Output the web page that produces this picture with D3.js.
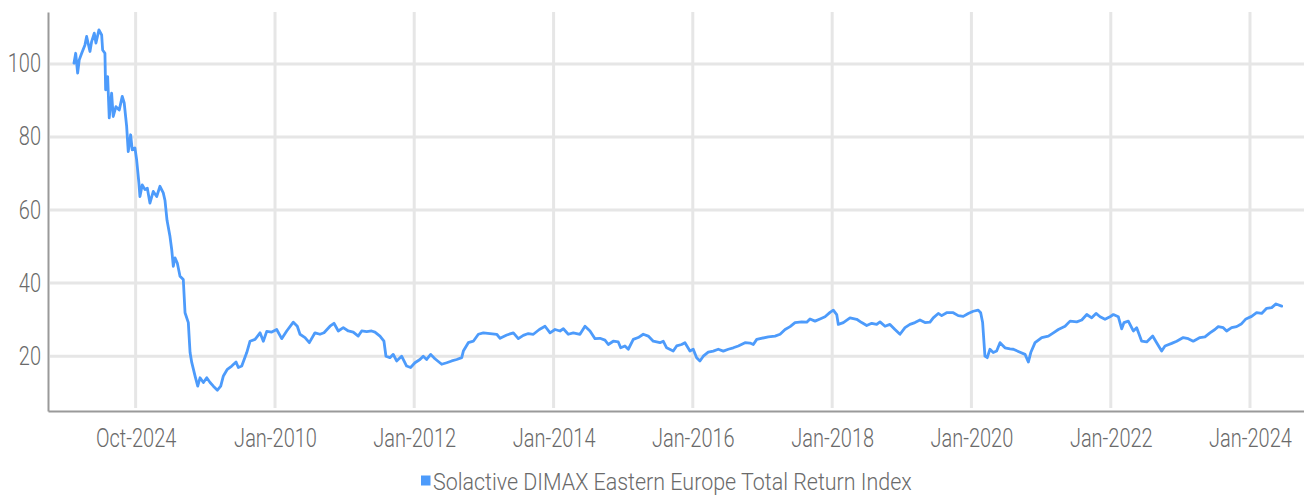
<!DOCTYPE html>
<html>
<head>
<meta charset="utf-8">
<script src="https://cdnjs.cloudflare.com/ajax/libs/d3/7.8.5/d3.min.js"></script>
<style>
  body { margin: 0; background: #fff; }
  svg { display: block; }
  .lbl { font-family: Roboto, "Noto Sans", sans-serif; font-weight: 300; fill: #6a6a6a; }
</style>
</head>
<body>
<svg id="chart" width="1304" height="496"></svg>
<script>
// index level, dates as decimal years
var years = [
  2007.114,2007.139,2007.167,2007.190,2007.225,2007.272,2007.296,2007.344,2007.368,2007.406,
  2007.430,2007.473,2007.512,2007.526,2007.559,2007.569,2007.598,2007.621,2007.655,2007.678,
  2007.717,2007.765,2007.808,2007.836,2007.871,2007.894,2007.928,2007.951,2007.990,2008.014,
  2008.047,2008.062,2008.095,2008.134,2008.167,2008.205,2008.253,2008.302,2008.349,2008.396,
  2008.421,2008.450,2008.492,2008.517,2008.540,2008.564,2008.597,2008.636,2008.683,2008.708,
  2008.755,2008.780,2008.804,2008.851,2008.890,2008.923,2008.971,2009.019,2009.067,2009.114,
  2009.172,2009.220,2009.258,2009.315,2009.378,2009.440,2009.473,2009.522,2009.594,2009.641,
  2009.713,2009.785,2009.832,2009.881,2009.953,2010.024,2010.096,2010.168,2010.263,2010.320,
  2010.359,2010.431,2010.493,2010.574,2010.646,2010.704,2010.790,2010.847,2010.909,2010.981,
  2011.053,2011.124,2011.196,2011.245,2011.317,2011.388,2011.436,2011.508,2011.565,2011.594,
  2011.651,2011.699,2011.747,2011.819,2011.891,2011.948,2012.010,2012.082,2012.129,2012.178,
  2012.236,2012.297,2012.394,2012.465,2012.537,2012.609,2012.681,2012.704,2012.775,2012.847,
  2012.919,2012.991,2013.087,2013.183,2013.231,2013.327,2013.422,2013.493,2013.565,2013.637,
  2013.709,2013.795,2013.877,2013.949,2014.020,2014.092,2014.140,2014.211,2014.283,2014.379,
  2014.451,2014.523,2014.595,2014.666,2014.738,2014.786,2014.857,2014.929,2014.964,2015.025,
  2015.073,2015.145,2015.216,2015.288,2015.360,2015.432,2015.528,2015.575,2015.624,2015.719,
  2015.768,2015.839,2015.887,2015.959,2016.006,2016.055,2016.102,2016.150,2016.221,2016.293,
  2016.365,2016.437,2016.509,2016.580,2016.652,2016.748,2016.820,2016.867,2016.916,2017.083,
  2017.179,2017.251,2017.323,2017.395,2017.466,2017.562,2017.634,2017.681,2017.753,2017.825,
  2017.897,2017.969,2018.016,2018.065,2018.088,2018.160,2018.256,2018.352,2018.424,2018.496,
  2018.568,2018.639,2018.687,2018.759,2018.830,2018.902,2018.974,2019.046,2019.117,2019.189,
  2019.261,2019.333,2019.405,2019.452,2019.524,2019.573,2019.644,2019.739,2019.811,2019.883,
  2019.955,2020.026,2020.098,2020.133,2020.161,2020.194,2020.227,2020.266,2020.313,2020.362,
  2020.410,2020.481,2020.553,2020.601,2020.697,2020.769,2020.816,2020.851,2020.912,2021.008,
  2021.103,2021.175,2021.247,2021.343,2021.415,2021.511,2021.583,2021.655,2021.726,2021.788,
  2021.846,2021.917,2021.989,2022.037,2022.108,2022.157,2022.190,2022.252,2022.324,2022.372,
  2022.444,2022.516,2022.602,2022.659,2022.731,2022.779,2022.875,2022.947,2023.041,2023.113,
  2023.185,2023.281,2023.353,2023.425,2023.496,2023.544,2023.616,2023.664,2023.736,2023.808,
  2023.880,2023.942,2024.023,2024.095,2024.167,2024.239,2024.311,2024.373,2024.454
];
var values = [
  100.2,102.9,97.5,101.1,102.9,105.2,107.5,103.4,106.1,108.4,
  105.7,109.3,107.9,103.8,102.9,92.9,96.5,85.2,92.0,85.6,
  88.3,87.4,91.1,89.3,82.9,76.0,80.6,76.5,77.0,73.8,
  67.4,63.7,66.9,65.6,66.0,61.9,65.1,63.7,66.5,64.7,
  62.6,57.2,52.8,49.2,44.6,46.9,45.5,41.9,41.0,31.9,
  29.2,21.0,18.3,14.6,11.8,14.1,12.8,14.1,12.8,11.8,
  10.7,11.8,14.6,16.4,17.3,18.4,16.9,17.3,21.0,24.1,
  24.6,26.4,24.1,26.8,26.6,27.3,24.8,26.9,29.3,28.2,
  26.0,25.1,23.7,26.4,26.0,26.4,28.2,29.0,26.9,27.8,
  26.9,26.6,25.5,26.9,26.7,26.9,26.6,25.5,24.1,20.0,
  19.6,20.5,18.7,20.0,17.3,16.9,18.2,19.1,20.0,19.1,
  20.5,19.3,17.8,18.2,18.7,19.1,19.6,21.4,23.7,24.1,
  26.0,26.4,26.2,26.0,24.9,25.8,26.4,24.8,25.7,26.2,
  26.0,27.3,28.2,26.4,27.3,26.9,27.5,26.0,26.4,26.0,
  28.2,26.9,24.8,24.9,24.4,23.2,24.1,23.9,22.3,22.8,
  21.9,24.6,25.1,26.0,25.5,24.1,23.7,24.1,22.3,21.4,
  22.8,23.2,23.7,21.4,21.9,19.6,18.7,20.0,21.1,21.4,
  21.9,21.4,21.9,22.3,22.8,23.7,23.6,23.2,24.6,25.3,
  25.5,26.0,27.3,28.1,29.2,29.4,29.3,30.2,29.6,30.2,
  30.8,32.0,32.6,31.4,28.7,29.2,30.5,30.1,29.2,28.4,
  29.0,28.7,29.4,28.2,28.7,27.3,26.0,27.8,28.7,29.2,
  29.9,29.2,29.3,30.5,31.7,31.1,31.9,31.9,31.1,30.9,
  31.7,32.3,32.6,31.9,29.2,20.0,19.6,21.9,21.0,21.4,
  23.7,22.3,22.0,21.9,21.1,20.5,18.4,21.0,23.7,25.1,
  25.5,26.4,27.3,28.2,29.6,29.4,29.9,31.4,30.5,31.7,
  30.8,30.1,30.8,31.4,30.8,27.5,29.2,29.6,26.9,27.8,
  24.1,23.9,25.5,23.7,21.4,22.8,23.5,24.1,25.1,24.8,
  24.1,25.1,25.3,26.4,27.3,28.1,27.8,26.9,27.8,28.1,
  28.9,30.2,30.9,31.9,31.7,33.1,33.3,34.3,33.7
];
var tickYears = [2008, 2010, 2012, 2014, 2016, 2018, 2020, 2022, 2024];
var tickLabels = ["Oct-2024","Jan-2010","Jan-2012","Jan-2014","Jan-2016","Jan-2018","Jan-2020","Jan-2022","Jan-2024"];
var yTicks = [20, 40, 60, 80, 100];
var seriesName = "Solactive DIMAX Eastern Europe Total Return Index";

var W = 1304, H = 496;
var margin = {left: 48, right: 0, top: 12, bottom: 85};
var lineColor = "#4d9bfb";
var narrow = 0.8;   // squeeze Roboto to look like the condensed face

function toDate(t){
  var yr = Math.floor(t);
  var s = Date.UTC(yr,0,1), e = Date.UTC(yr+1,0,1);
  return new Date(s + (t-yr)*(e-s));
}

var data = years.map(function(t,i){ return {date: toDate(t), value: values[i]}; });

var svg = d3.select("#chart");
var x = d3.scaleUtc()
  .domain([toDate(2006.741), toDate(2024.774)])
  .range([margin.left, W - margin.right]);
var y = d3.scaleLinear()
  .domain([5, 114.2])
  .range([H - margin.bottom, margin.top]);

var tickDates = tickYears.map(function(yr){ return new Date(Date.UTC(yr,0,1)); });

// grid
svg.append("g").selectAll("line.h").data(yTicks).enter().append("line")
  .attr("x1", margin.left + 2).attr("x2", W)
  .attr("y1", function(d){ return y(d); }).attr("y2", function(d){ return y(d); })
  .attr("stroke", "#e6e6e6").attr("stroke-width", 3);
svg.append("g").selectAll("line.v").data(tickDates).enter().append("line")
  .attr("x1", function(d){ return x(d); }).attr("x2", function(d){ return x(d); })
  .attr("y1", margin.top).attr("y2", H - margin.bottom - 3)
  .attr("stroke", "#e6e6e6").attr("stroke-width", 3);

// axes
var xAxis = svg.append("g")
  .attr("transform", "translate(0," + (H - margin.bottom) + ")")
  .call(d3.axisBottom(x).tickValues(tickDates).tickSize(0).tickPadding(18)
        .tickFormat(function(d,i){ return tickLabels[i]; }));
xAxis.select(".domain").attr("stroke", "#9a9a9a").attr("stroke-width", 2);
xAxis.selectAll("text").attr("class", "lbl").attr("font-size", 25).attr("fill", null)
  .attr("transform", "scale(" + narrow + ",1)");

var yAxis = svg.append("g")
  .attr("transform", "translate(" + margin.left + ",0)")
  .call(d3.axisLeft(y).tickValues(yTicks).tickSize(0).tickPadding(7 / narrow));
yAxis.select(".domain").attr("stroke", "#9a9a9a").attr("stroke-width", 2);
yAxis.selectAll("text").attr("class", "lbl").attr("font-size", 25).attr("fill", null)
  .attr("transform", "scale(" + narrow + ",1)");

// series
var line = d3.line()
  .x(function(d){ return x(d.date); })
  .y(function(d){ return y(d.value); })
  .curve(d3.curveLinear);
svg.append("path")
  .datum(data)
  .attr("fill", "none")
  .attr("stroke", lineColor)
  .attr("stroke-width", 2.8)
  .attr("stroke-linejoin", "round")
  .attr("stroke-linecap", "round")
  .attr("d", line);

// legend
var legend = svg.append("g").attr("transform", "translate(421,490)");
legend.append("rect").attr("x", 0).attr("y", -14.5).attr("width", 9.5).attr("height", 10).attr("fill", lineColor);
var lt = legend.append("text").attr("class", "lbl").attr("x", 0).attr("y", 0)
  .attr("font-size", 24).text(seriesName);
var lw = lt.node().getComputedTextLength();
lt.attr("transform", "translate(12,0) scale(" + (479 / lw) + ",1)");
</script>
</body>
</html>
